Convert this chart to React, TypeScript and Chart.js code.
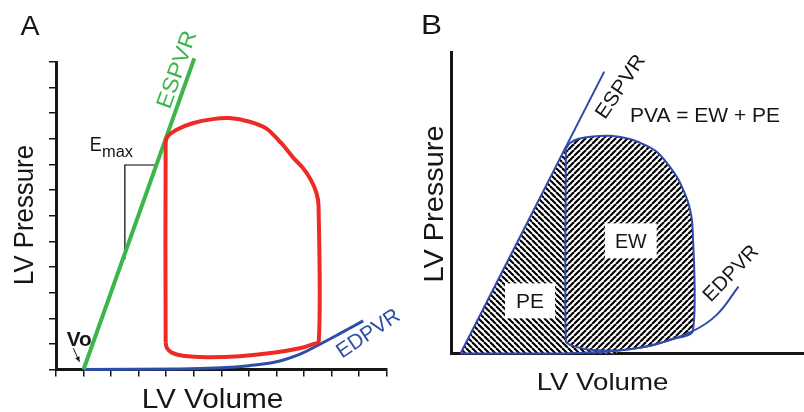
import { useEffect, useRef } from 'react';
import { Chart, registerables } from 'chart.js';

Chart.register(...registerables);

// ---------------- Panel A data (LV volume, LV pressure in arbitrary units) ----------------
const espvrA_V = [1, 5.02];
const espvrA_P = [0, 12.14];

const loopA_V = [3.98, 3.98, 4.05, 4.36, 4.96, 5.69, 6.3, 7.03, 7.63, 8.18, 8.6, 8.95, 9.25, 9.45, 9.53, 9.54, 9.25, 8.85, 7.87, 6.66, 5.45, 4.6, 4.2, 4.02, 3.98];
const loopA_P = [1.05, 8.83, 9.09, 9.35, 9.61, 9.77, 9.81, 9.67, 9.41, 8.83, 8.28, 7.88, 7.4, 6.9, 6.4, 1.12, 0.96, 0.83, 0.65, 0.52, 0.48, 0.54, 0.66, 0.85, 1.05];

const edpvrA_V = [1, 4.5, 6, 7, 8, 8.86, 9.55, 10.3, 11.15];
const edpvrA_P = [0, 0.02, 0.07, 0.15, 0.3, 0.6, 0.97, 1.4, 1.9];

const emaxA_V = [2.5, 2.5, 3.62];
const emaxA_P = [4.3, 7.98, 7.98];

const voArrowV = [0.63, 0.85];
const voArrowP = [0.83, 0.3];

// ---------------- Panel B data ----------------
const espvrB_V = [0.25, 4.33];
const espvrB_P = [0, 9.35];

const edpvrB_V = [0.25, 3.0, 3.83, 4.68, 5.72, 6.84, 7.52, 8.14];
const edpvrB_P = [0, 0, 0.03, 0.09, 0.28, 0.74, 1.28, 2.22];

const ewB_V = [3.24, 3.36, 3.6, 4.0, 4.5, 5.15, 5.82, 6.39, 6.72, 6.84, 6.84, 6.2, 5.72, 5.2, 4.68, 4.1, 3.74, 3.4, 3.24, 3.24];
const ewB_P = [6.8, 6.98, 7.12, 7.2, 7.22, 7.08, 6.69, 5.86, 4.98, 4.1, 0.74, 0.46, 0.28, 0.17, 0.1, 0.11, 0.16, 0.27, 0.4, 6.8];

const peB_V = [0.25, 3.24, 3.24, 3.4, 3.74, 4.1, 4.68, 4.68, 0.25];
const peB_P = [0, 6.8, 0.4, 0.27, 0.16, 0.11, 0.1, 0, 0];

const ticksA = 12;

// ---------------- styles ----------------
const FONT = '"Liberation Sans", Arial, Helvetica, sans-serif';
const INK = '#161616';
const GREEN = '#3cb64b';
const RED = '#ee2a25';
const BLUE_A = '#2c4ea6';
const BLUE_B = '#3149a9';

type Label = {
  text: string;
  x: number;
  y: number;
  size: number;
  width?: number;
  angle?: number;
  color?: string;
  bold?: boolean;
  dy?: number;
};

const labelsA: Label[] = [
  { text: 'A', x: 30, y: 25, size: 28, width: 19 },
  { text: 'LV Pressure', x: 23.3, y: 215, size: 28, angle: -90, width: 140 },
  { text: 'LV Volume', x: 212.5, y: 398.3, size: 28, width: 141.7 },
  { text: 'ESPVR', x: 175.8, y: 69.2, size: 22, angle: -70.5, width: 81, color: GREEN },
  { text: 'EDPVR', x: 367.5, y: 332.5, size: 21, angle: -34, width: 71.6, color: BLUE_A },
  { text: 'Vo', x: 79.2, y: 339.2, size: 20, bold: true, width: 25 },
  { text: 'E', x: 95.8, y: 143.3, size: 21, width: 12 },
  { text: 'max', x: 117.5, y: 156.7, size: 16, width: 31, dy: 0 },
];

const labelsB: Label[] = [
  { text: 'B', x: 31.5, y: 24, size: 28, width: 21 },
  { text: 'LV Pressure', x: 32.5, y: 204, size: 28, angle: -90, width: 157 },
  { text: 'LV Volume', x: 202.5, y: 381.3, size: 24, width: 131.7 },
  { text: 'ESPVR', x: 219.5, y: 86, size: 20, angle: -56, width: 73 },
  { text: 'PVA = EW + PE', x: 305, y: 114.2, size: 21, width: 150 },
  { text: 'EDPVR', x: 330, y: 272.5, size: 20, angle: -46, width: 70 },
  { text: 'EW', x: 230.8, y: 240.8, size: 20, width: 31.7 },
  { text: 'PE', x: 130, y: 300.8, size: 20, width: 28 },
];

const boxesB = [
  { x: 205, y: 223.3, w: 51.7, h: 35 },
  { x: 105, y: 283.3, w: 50, h: 35 },
];

const pts = (xs: number[], ys: number[]) => xs.map((x, i) => ({ x, y: ys[i] }));

function drawLabel(ctx: CanvasRenderingContext2D, l: Label) {
  ctx.save();
  ctx.translate(l.x, l.y);
  if (l.angle) ctx.rotate((l.angle * Math.PI) / 180);
  ctx.font = `${l.bold ? 'bold ' : ''}${l.size}px ${FONT}`;
  const w = ctx.measureText(l.text).width;
  const sx = l.width ? l.width / w : 1;
  ctx.scale(sx, 1);
  ctx.fillStyle = l.color ?? INK;
  ctx.textAlign = 'center';
  ctx.textBaseline = 'alphabetic';
  ctx.fillText(l.text, 0, (l.dy ?? 0.36) * l.size);
  ctx.restore();
}

function makeHatch(ctx: CanvasRenderingContext2D, dir: 1 | -1) {
  const s = 6;
  const c = document.createElement('canvas');
  c.width = s;
  c.height = s;
  const g = c.getContext('2d')!;
  g.fillStyle = '#ffffff';
  g.fillRect(0, 0, s, s);
  g.strokeStyle = '#000000';
  g.lineWidth = 2.1;
  for (const k of [-s, 0, s]) {
    g.beginPath();
    if (dir > 0) {
      g.moveTo(k, s);
      g.lineTo(k + s, 0);
    } else {
      g.moveTo(k, 0);
      g.lineTo(k + s, s);
    }
    g.stroke();
  }
  return ctx.createPattern(c, 'repeat')!;
}

function axisA(max: number, horizontal: boolean) {
  return {
    type: 'linear' as const,
    min: 0,
    max,
    ticks: { display: false, stepSize: 1 },
    grid: { drawOnChartArea: false, drawTicks: true, tickLength: 7, color: INK, lineWidth: 1.5 },
    border: { display: true, color: INK, width: 3 },
    afterFit: (s: any) => {
      if (horizontal) s.height = 7;
      else s.width = 7;
    },
  };
}

function axisB(max: number, horizontal: boolean) {
  return {
    type: 'linear' as const,
    min: 0,
    max,
    ticks: { display: false },
    grid: { display: false, drawTicks: false },
    border: { display: true, color: INK, width: 3 },
    afterFit: (s: any) => {
      if (horizontal) s.height = 0;
      else s.width = 0;
    },
  };
}

export default function App() {
  const refA = useRef<HTMLCanvasElement>(null);
  const refB = useRef<HTMLCanvasElement>(null);

  useEffect(() => {
    const cA = refA.current!;
    const cB = refB.current!;

    const line = (data: { x: number; y: number }[], extra: any) => ({
      data,
      pointRadius: 0,
      pointHoverRadius: 0,
      fill: false,
      ...extra,
    });

    const chartA = new Chart(cA, {
      type: 'line',
      data: {
        datasets: [
          line(pts(loopA_V, loopA_P), { borderColor: RED, borderWidth: 4, tension: 0.3, order: 1, clip: false }),
          line(pts(espvrA_V, espvrA_P), { borderColor: GREEN, borderWidth: 4, tension: 0, order: 2, clip: false }),
          line(pts(edpvrA_V, edpvrA_P), { borderColor: BLUE_A, borderWidth: 3, tension: 0.4, order: 3, clip: false }),
          line(pts(emaxA_V, emaxA_P), { borderColor: '#000000', borderWidth: 1.2, tension: 0, order: 4, clip: false }),
        ],
      },
      options: {
        responsive: false,
        animation: false,
        events: [],
        layout: { padding: { left: 49, top: 62, right: 13.4, bottom: 35.5 } },
        plugins: { legend: { display: false }, tooltip: { enabled: false } },
        scales: { x: axisA(ticksA, true), y: axisA(ticksA, false) } as any,
      },
      plugins: [
        {
          id: 'annotA',
          afterDraw(chart: any) {
            const ctx = chart.ctx as CanvasRenderingContext2D;
            const sx = chart.scales.x;
            const sy = chart.scales.y;
            const x1 = sx.getPixelForValue(voArrowV[0]);
            const y1 = sy.getPixelForValue(voArrowP[0]);
            const x2 = sx.getPixelForValue(voArrowV[1]);
            const y2 = sy.getPixelForValue(voArrowP[1]);
            ctx.save();
            ctx.strokeStyle = INK;
            ctx.fillStyle = INK;
            ctx.lineWidth = 1;
            ctx.beginPath();
            ctx.moveTo(x1, y1);
            ctx.lineTo(x2, y2);
            ctx.stroke();
            const a = Math.atan2(y2 - y1, x2 - x1);
            const hl = 5.5;
            ctx.beginPath();
            ctx.moveTo(x2, y2);
            ctx.lineTo(x2 - hl * Math.cos(a - 0.45), y2 - hl * Math.sin(a - 0.45));
            ctx.lineTo(x2 - hl * Math.cos(a + 0.45), y2 - hl * Math.sin(a + 0.45));
            ctx.closePath();
            ctx.fill();
            labelsA.forEach((l) => drawLabel(ctx, l));
            ctx.restore();
          },
        },
      ],
    });

    const ctxB = cB.getContext('2d')!;
    const hatchUp = makeHatch(ctxB, 1);
    const hatchDown = makeHatch(ctxB, -1);

    const chartB = new Chart(cB, {
      type: 'line',
      data: {
        datasets: [
          line(pts(edpvrB_V, edpvrB_P), { borderColor: BLUE_B, borderWidth: 2, tension: 0.4, order: 1, clip: false }),
          line(pts(espvrB_V, espvrB_P), { borderColor: BLUE_B, borderWidth: 2, tension: 0, order: 2, clip: false }),
          line(pts(ewB_V, ewB_P), {
            borderColor: BLUE_B,
            borderWidth: 2,
            tension: 0.25,
            fill: 'shape',
            backgroundColor: hatchUp,
            order: 3,
            clip: false,
          }),
          line(pts(peB_V, peB_P), {
            borderColor: 'rgba(0,0,0,0)',
            borderWidth: 0.01,
            tension: 0,
            fill: 'shape',
            backgroundColor: hatchDown,
            order: 4,
            clip: false,
          }),
        ],
      },
      options: {
        responsive: false,
        animation: false,
        events: [],
        layout: { padding: { left: 51.7, top: 52, right: 0, bottom: 58.5 } },
        plugins: { legend: { display: false }, tooltip: { enabled: false } },
        scales: { x: axisB(10, true), y: axisB(10, false) } as any,
      },
      plugins: [
        {
          id: 'annotB',
          afterDraw(chart: any) {
            const ctx = chart.ctx as CanvasRenderingContext2D;
            ctx.save();
            ctx.fillStyle = '#ffffff';
            boxesB.forEach((b) => ctx.fillRect(b.x, b.y, b.w, b.h));
            labelsB.forEach((l) => drawLabel(ctx, l));
            ctx.restore();
          },
        },
      ],
    });

    return () => {
      chartA.destroy();
      chartB.destroy();
    };
  }, []);

  return (
    <div style={{ position: 'absolute', left: 0, top: 0, width: 804, height: 412, background: '#ffffff', overflow: 'hidden' }}>
      <canvas ref={refA} width={400} height={412} style={{ position: 'absolute', left: 0, top: 0, width: 400, height: 412 }} />
      <canvas ref={refB} width={404} height={412} style={{ position: 'absolute', left: 400, top: 0, width: 404, height: 412 }} />
    </div>
  );
}
